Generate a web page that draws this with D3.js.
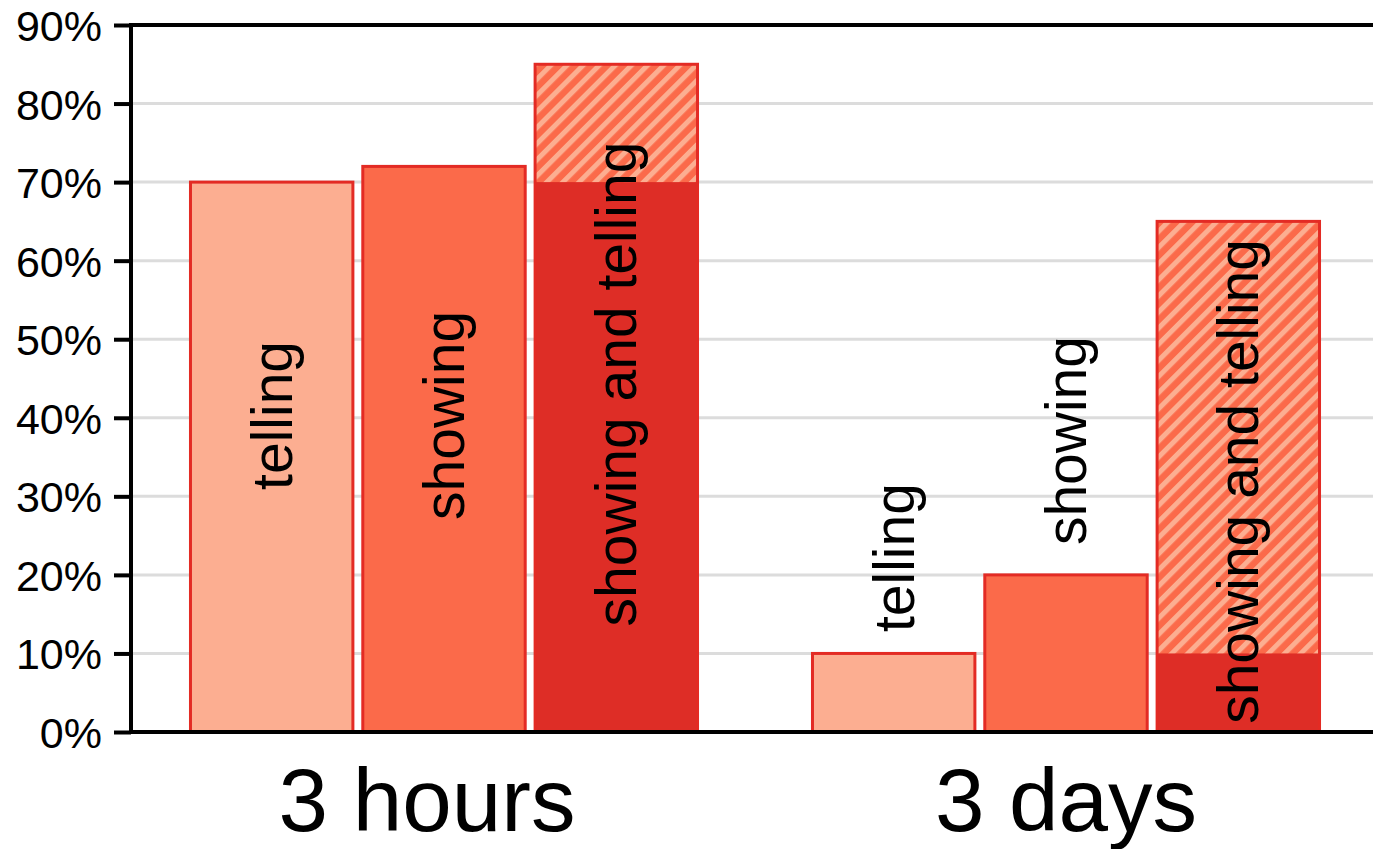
<!DOCTYPE html>
<html>
<head>
<meta charset="utf-8">
<script src="https://cdn.jsdelivr.net/npm/d3@7"></script>
<style>
  html, body { margin: 0; padding: 0; background: #ffffff; }
  svg { display: block; }
  text { font-family: "Liberation Sans", Arial, Helvetica, sans-serif; fill: #000; }
</style>
</head>
<body>
<svg id="chart" width="1373" height="849"></svg>
<script>
// ---- data ----
const groups = ["3 hours", "3 days"];
const conditions = ["telling", "showing", "showing and telling"];
const tellingValues = [70, 10];
const showingValues = [72, 20];
const combinedSolidValues = [70, 10];
const combinedTotalValues = [85, 65];
// where the rotated label centre sits (in % units) for each group / condition
const labelCentres3h = [40.3, 40.3, 44.3];
const labelCentres3d = [22.2, 37.1, 31.9];
const yTicks = [0, 10, 20, 30, 40, 50, 60, 70, 80, 90];

// ---- layout ----
const W = 1373, H = 849;
const axisX = 131, yTop = 25, yBottom = 732;
const svg = d3.select("#chart");

const y = d3.scaleLinear().domain([0, 90]).range([yBottom, yTop]);
const x0 = d3.scaleBand().domain(groups).range([133, 1377]).paddingInner(0.18).paddingOuter(0.09);
const x1 = d3.scaleBand().domain(conditions).range([0, x0.bandwidth()]).paddingInner(0.04).paddingOuter(0);

const colTelling = "#fcae91", colShowing = "#fb6a4a", colDark = "#de2d26", colStroke = "#e32b24";

// hatch pattern
const P = 11.4;
const defs = svg.append("defs");
const pat = defs.append("pattern")
  .attr("id", "hatch").attr("patternUnits", "userSpaceOnUse")
  .attr("width", P).attr("height", P)
  .attr("patternTransform", "rotate(45)");
pat.append("rect").attr("width", P).attr("height", P).attr("fill", colShowing);
pat.append("rect").attr("x", 0).attr("width", 5).attr("height", P).attr("fill", colTelling);

// gridlines
svg.append("g").selectAll("line").data(yTicks.filter(t => t > 0 && t < 90)).join("line")
  .attr("x1", axisX).attr("x2", W)
  .attr("y1", d => y(d)).attr("y2", d => y(d))
  .attr("stroke", "#dcdcdc").attr("stroke-width", 3);

// bars data
const rows = [];
groups.forEach((g, i) => {
  const lc = i === 0 ? labelCentres3h : labelCentres3d;
  rows.push({ g, c: conditions[0], v: tellingValues[i], fill: colTelling, lab: lc[0] });
  rows.push({ g, c: conditions[1], v: showingValues[i], fill: colShowing, lab: lc[1] });
  rows.push({ g, c: conditions[2], v: combinedTotalValues[i], solid: combinedSolidValues[i], fill: "url(#hatch)", lab: lc[2] });
});

const sw = 3;
const barG = svg.append("g");
const bx = d => x0(d.g) + x1(d.c) + sw / 2;
const bw = x1.bandwidth() - sw;

barG.selectAll("rect.fill").data(rows).join("rect")
  .attr("class", "fill")
  .attr("x", bx).attr("width", bw)
  .attr("y", d => y(d.v)).attr("height", d => y(0) - y(d.v))
  .attr("fill", d => d.fill);

barG.selectAll("rect.solid").data(rows.filter(d => d.solid != null)).join("rect")
  .attr("class", "solid")
  .attr("x", bx).attr("width", bw)
  .attr("y", d => y(d.solid)).attr("height", d => y(0) - y(d.solid))
  .attr("fill", colDark);

barG.selectAll("rect.outline").data(rows).join("rect")
  .attr("class", "outline")
  .attr("x", bx).attr("width", bw)
  .attr("y", d => y(d.v)).attr("height", d => y(0) - y(d.v))
  .attr("fill", "none").attr("stroke", colStroke).attr("stroke-width", sw);

// rotated labels
barG.selectAll("text").data(rows).join("text")
  .attr("transform", d => `translate(${x0(d.g) + x1(d.c) + x1.bandwidth() / 2},${y(d.lab)}) rotate(-90)`)
  .attr("text-anchor", "middle")
  .attr("dy", "0.35em")
  .attr("font-size", 57)
  .text(d => d.c);

// y axis
const yAxis = d3.axisLeft(y).tickValues(yTicks).tickFormat(d => d + "%").tickSize(17).tickPadding(12);
const ya = svg.append("g").attr("transform", `translate(${axisX},0)`).call(yAxis);
ya.select(".domain").remove();
ya.selectAll(".tick line").attr("stroke", "#000").attr("stroke-width", 4);
ya.selectAll(".tick text").attr("font-size", 43).attr("font-family", "'Liberation Sans', Arial, sans-serif").attr("dy", "0.36em").attr("fill", "#000");
svg.append("line").attr("x1", axisX).attr("x2", axisX).attr("y1", yTop - 2).attr("y2", yBottom + 2)
  .attr("stroke", "#000").attr("stroke-width", 4);

// top and bottom frame lines
svg.append("line").attr("x1", axisX).attr("x2", W).attr("y1", y(90)).attr("y2", y(90)).attr("stroke", "#000").attr("stroke-width", 4);
svg.append("line").attr("x1", axisX).attr("x2", W).attr("y1", y(0)).attr("y2", y(0)).attr("stroke", "#000").attr("stroke-width", 4);

// x axis category labels
const xAxis = d3.axisBottom(x0).tickSize(0).tickPadding(0);
const xa = svg.append("g").attr("transform", `translate(0,${yBottom})`).call(xAxis);
xa.select(".domain").remove();
xa.selectAll(".tick text").attr("font-size", 89).attr("font-family", "'Liberation Sans', Arial, sans-serif")
  .attr("fill", "#000").attr("dy", 0).attr("y", 99)
  .attr("x", (d, i) => i === 0 ? -17 : 0);
</script>
</body>
</html>
